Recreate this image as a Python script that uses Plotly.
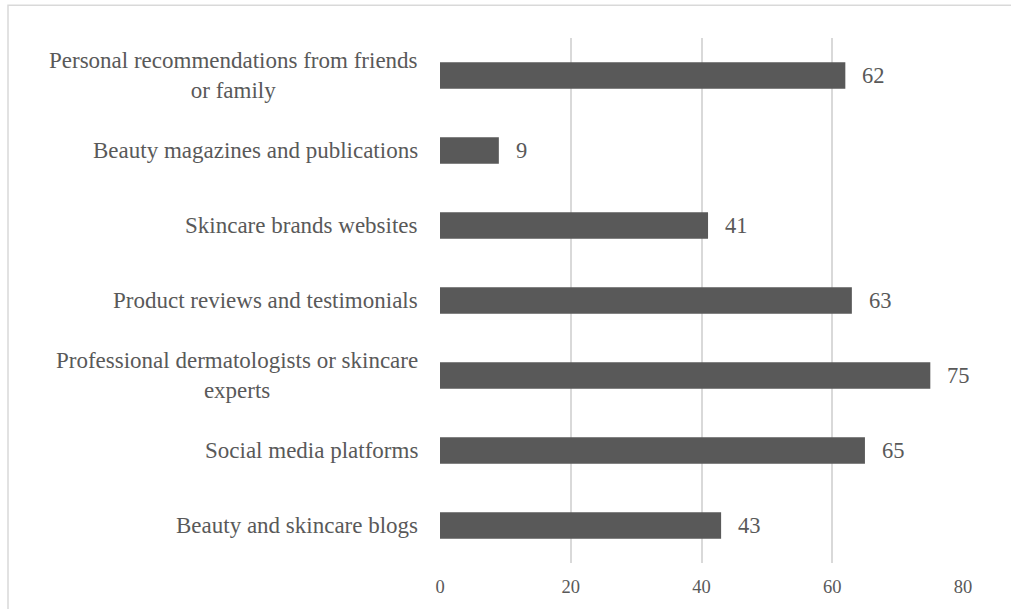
import plotly.graph_objects as go

# Information sources, listed bottom to top as drawn on the category axis
sources = [
    "Beauty and skincare blogs",
    "Social media platforms",
    "Professional dermatologists or skincare<br>experts",
    "Product reviews and testimonials",
    "Skincare brands websites",
    "Beauty magazines and publications",
    "Personal recommendations from friends<br>or family",
]
counts = [43, 65, 75, 63, 41, 9, 62]
x_ticks = [0, 20, 40, 60, 80]

W, H = 1011, 609
M_L, M_R, M_T, M_B = 440, 48, 38, 43
TEXT = "#595959"
GRID = "#d9d9d9"
FONT = "Liberation Serif, Times New Roman, serif"

fig = go.Figure(
    go.Bar(
        x=counts,
        y=list(range(len(sources))),
        orientation="h",
        marker=dict(color="#595959", line=dict(width=0)),
        hoverinfo="skip",
    )
)

# Category labels, centred line by line and right-aligned against the axis
for i, name in enumerate(sources):
    fig.add_annotation(
        x=0, y=i, xref="x", yref="y",
        text=name, showarrow=False,
        xanchor="right", yanchor="middle", align="center",
        xshift=-20,
        font=dict(family=FONT, size=23, color=TEXT),
    )

# Value labels at the end of each bar
for i, v in enumerate(counts):
    fig.add_annotation(
        x=v, y=i, xref="x", yref="y",
        text=str(v), showarrow=False,
        xanchor="left", yanchor="middle",
        xshift=15,
        font=dict(family=FONT, size=22.5, color=TEXT),
    )

# Chart-area outline (only the top and left edges fall inside the page)
pw = W - M_L - M_R
ph = H - M_T - M_B
def px_to_paper_x(px):
    return (px - M_L) / pw
def px_to_paper_y(py):
    return 1 - (py - M_T) / ph

fig.add_shape(
    type="rect", xref="paper", yref="paper",
    x0=px_to_paper_x(8), x1=px_to_paper_x(W + 20),
    y0=px_to_paper_y(H + 20), y1=px_to_paper_y(5),
    line=dict(color=GRID, width=1.5), fillcolor="rgba(0,0,0,0)",
    layer="below",
)

fig.update_layout(
    width=W, height=H,
    margin=dict(l=M_L, r=M_R, t=M_T, b=M_B),
    paper_bgcolor="white", plot_bgcolor="white",
    bargap=0.646,
    showlegend=False,
    font=dict(family=FONT, size=18, color=TEXT),
    xaxis=dict(
        range=[0, 80],
        tickvals=x_ticks,
        ticktext=[str(t) for t in x_ticks],
        showgrid=True, gridcolor=GRID, gridwidth=1.5,
        zeroline=False, showline=False,
        ticks="", ticklabelstandoff=10,
        tickfont=dict(family=FONT, size=18.5, color=TEXT),
        fixedrange=True,
    ),
    yaxis=dict(
        range=[-0.5, len(sources) - 0.5],
        showticklabels=False, showgrid=False,
        zeroline=False, showline=False, ticks="",
        fixedrange=True,
    ),
)

fig.write_html("out.html")
